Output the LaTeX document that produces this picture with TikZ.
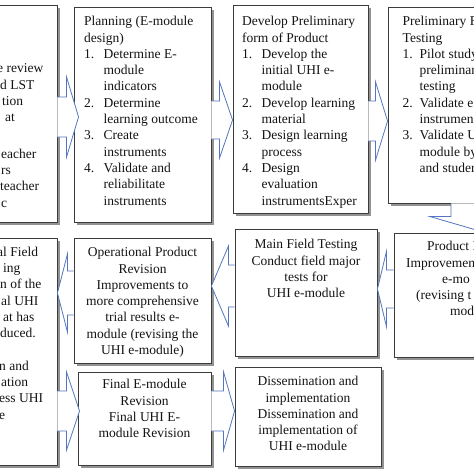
\documentclass[tikz,border=0pt]{standalone}
\usepackage{fontspec}
\setmainfont{Liberation Serif}
\usepackage{tikz}
\usetikzlibrary{calc,shadows}
\definecolor{ramfarg}{RGB}{60,60,60}
\definecolor{pilfarg}{RGB}{84,118,192}
\definecolor{textfarg}{RGB}{20,20,20}
\newcommand\fl{\rule{0pt}{10pt}}
\newcommand\itm[2]{\makebox[#1][l]{#2}}
\newcommand\arrowpath[5]{% tail, tip, shaft half width, head half width, head length
  ($(#1)!#3!90:(#2)$) -- ($(hb)!#3!90:(#2)$) -- ($(hb)!#4!90:(#2)$) -- (#2)
  -- ($(hb)!#4!-90:(#2)$) -- ($(hb)!#3!-90:(#2)$) -- ($(#1)!#3!-90:(#2)$)
}
\newcommand\blockarrow[5]{%
  \coordinate (hb) at ($(#2)!#5!(#1)$);
  \fill[white] \arrowpath{#1}{#2}{#3}{#4}{#5} -- cycle;
  \draw[pil] \arrowpath{#1}{#2}{#3}{#4}{#5};
}
\tikzset{
    % Define box style
    ruta/.style={
           draw=ramfarg,
           line width=0.9pt,
           fill=white,
           inner sep=0pt,
           drop shadow={shadow xshift=3pt,shadow yshift=-3pt,fill=black!70,opacity=0.6},
           },
    % Define block arrow outline
    pil/.style={
           draw=pilfarg,
           line width=0.8pt,
           line join=miter,
           },
    % Define text style
    txt/.style={
           inner sep=0pt,
           text=textfarg,
           font=\fontsize{13.5}{16.3}\selectfont,
}
}
\begin{document}
\begin{tikzpicture}[x=1pt,y=-1pt]
  	\useasboundingbox (0,0) rectangle (474,474);
  	\fill[white] (0,0) rectangle (474,474);
  	\clip (0,0) rectangle (474,474);
  	% upper row
  	\node[ruta, minimum width=157pt, minimum height=217pt] (res) at (-21.5,113.5) {};
  	\node[ruta, minimum width=137pt, minimum height=215pt] (plan) at (142.5,114.5) {};
  	\node[ruta, minimum width=135pt, minimum height=208pt] (dev) at (300.5,109) {};
  	\node[ruta, minimum width=172pt, minimum height=196pt] (pre) at (474,105) {};
  	% lower rows
  	\node[ruta, minimum width=157pt, minimum height=227pt] (opf) at (-21.5,351.5) {};
  	\node[ruta, minimum width=137pt, minimum height=125pt] (opr) at (142.5,300.5) {};
  	\node[ruta, minimum width=142pt, minimum height=127pt] (main) at (306,292.5) {};
  	\node[ruta, minimum width=166pt, minimum height=124pt] (imp) at (477,295) {};
  	\node[ruta, minimum width=133pt, minimum height=93pt] (fin) at (144.5,418.5) {};
  	\node[ruta, minimum width=146pt, minimum height=99pt] (dis) at (308,416.5) {};
  	% arrow ends
  	\coordinate (a) at (res.east |- 0,117);
  	\coordinate (b) at ($(plan.west |- 0,117)+(5,0)$);
  	\coordinate (c) at (plan.east |- 0,120);
  	\coordinate (d) at (dev.west |- 0,120);
  	\coordinate (e) at (dev.east |- 0,121);
  	\coordinate (f) at (pre.west |- 0,121);
  	\coordinate (g) at (pre.south -| 485,0);
  	\coordinate (h) at (imp.north -| 485,0);
  	\coordinate (i) at (imp.west |- 0,289);
  	\coordinate (j) at (main.east |- 0,289);
  	\coordinate (k) at (main.west |- 0,286);
  	\coordinate (l) at (opr.east |- 0,286);
  	\coordinate (m) at (opr.west |- 0,293);
  	\coordinate (n) at (opf.east |- 0,293);
  	\coordinate (o) at (opf.east |- 0,411);
  	\coordinate (p) at ($(fin.west |- 0,411)+(2,0)$);
  	\coordinate (q) at (fin.east |- 0,411);
  	\coordinate (r) at (dis.west |- 0,411);
  	\blockarrow{a}{b}{20pt}{40pt}{12pt}
  	\blockarrow{c}{d}{19pt}{38pt}{13pt}
  	\blockarrow{e}{f}{20pt}{39pt}{12pt}
  	\blockarrow{g}{h}{34pt}{55pt}{16pt}
  	\blockarrow{i}{j}{19pt}{37.5pt}{9pt}
  	\blockarrow{k}{l}{21pt}{40pt}{17pt}
  	\blockarrow{m}{n}{22pt}{39pt}{10pt}
  	\blockarrow{o}{p}{20pt}{39pt}{13pt}
  	\blockarrow{q}{r}{20pt}{39pt}{11pt}
  	% texts
  	\node[txt, anchor=north west, align=left] (restxt) at (-6,62.5) {\fl\hspace*{3pt}e review\\\hspace*{6pt}d LST\\\hspace*{8pt}tion\\\hspace*{11pt}at\\ \\[4pt]\hspace*{7pt}eacher\\\hspace*{7pt}rs\\\hspace*{6pt}teacher\\\hspace*{7pt}c};
  	\node[txt, anchor=north west, align=left] (plantxt) at (84,15.5) {\fl Planning (E-module\\design)\\\itm{19.5pt}{1.}Determine E-\\\hspace*{19.5pt}module\\\hspace*{19.5pt}indicators\\\itm{19.5pt}{2.}Determine\\\hspace*{19.5pt}learning outcome\\\itm{19.5pt}{3.}Create\\\hspace*{19.5pt}instruments\\\itm{19.5pt}{4.}Validate and\\\hspace*{19.5pt}reliabilitate\\\hspace*{19.5pt}instruments};
  	\node[txt, anchor=north west, align=left] (devtxt) at (242,15.5) {\fl Develop Preliminary\\form of Product\\\itm{19.5pt}{1.}Develop the\\\hspace*{19.5pt}initial UHI e-\\\hspace*{19.5pt}module\\\itm{19.5pt}{2.}Develop learning\\\hspace*{19.5pt}material\\\itm{19.5pt}{3.}Design learning\\\hspace*{19.5pt}process\\\itm{19.5pt}{4.}Design\\\hspace*{19.5pt}evaluation\\\hspace*{19.5pt}instrumentsExper};
  	\node[txt, anchor=north west, align=left] (pretxt) at (402.5,15.5) {\fl Preliminary F\\Testing\\\itm{17pt}{1.}Pilot study\\\hspace*{17pt}preliminar\\\hspace*{17pt}testing\\\itm{17pt}{2.}Validate e\\\hspace*{17pt}instrumen\\\itm{17pt}{3.}Validate U\\\hspace*{17pt}module by\\\hspace*{17pt}and studen};
  	\node[txt, anchor=north west, align=left] (opftxt) at (-6,246) {\fl\hspace*{3pt}al Field\\\hspace*{9pt}ing\\\hspace*{6pt}n of the\\\hspace*{7pt}al UHI\\\hspace*{9pt}at has\\\hspace*{6pt}duced.\\ \\\hspace*{5pt}n and\\\hspace*{7pt}ation\\\hspace*{5pt}ess UHI\\\hspace*{5pt}e};
  	\node[txt, anchor=north, align=center] (oprtxt) at (142.5,246.5) {\fl Operational Product\\Revision\\Improvements to\\more comprehensive\\trial results e-\\module (revising the\\UHI e-module)};
  	\node[txt, anchor=north, align=center] (maintxt) at (306,238.5) {\fl Main Field Testing\\Conduct field major\\tests for\\UHI e-module};
  	\node[txt, anchor=north west, align=left] (imptxt) at (406,240.5) {\fl\hspace*{21pt}Product I\\Improvemen\\\hspace*{36pt}e-mo\\\hspace*{10pt}(revising t\\\hspace*{44pt}mod};
  	\node[txt, anchor=north, align=center] (fintxt) at (144.5,378.5) {\fl Final E-module\\Revision\\Final UHI E-\\module Revision};
  	\node[txt, anchor=north, align=center] (distxt) at (308,375.5) {\fl Dissemination and\\implementation\\Dissemination and\\implementation of\\UHI e-module};
\end{tikzpicture}
\end{document}
